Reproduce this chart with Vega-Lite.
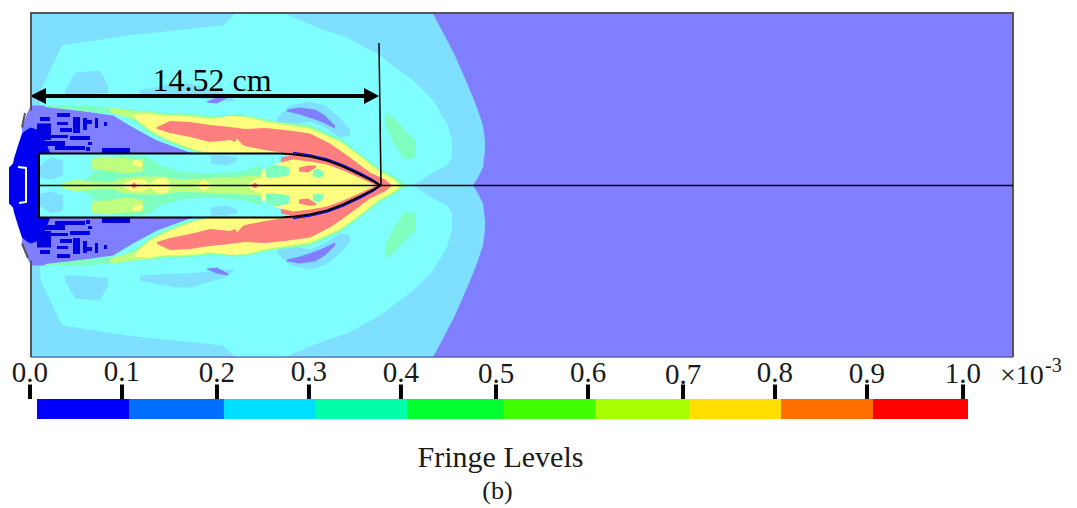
{"$schema":"https://vega.github.io/schema/vega-lite/v6.json","width":1077,"height":508,"padding":0,"autosize":{"type":"fit","contains":"padding"},"background":"white","config":{"view":{"stroke":null}},
"datasets":{"regions":[
{"s":"bg","level":"L0","x":0,"y":172,"y2":-172},{"s":"bg","level":"L0","x":982,"y":172,"y2":-172},
{"s":"a1","level":"L1","x":0,"y":172,"y2":-172},{"s":"a1","level":"L1","x":402,"y":172,"y2":-172},{"s":"a1","level":"L1","x":412,"y":153,"y2":-153},{"s":"a1","level":"L1","x":424,"y":130,"y2":-130},{"s":"a1","level":"L1","x":437,"y":100,"y2":-100},{"s":"a1","level":"L1","x":442,"y":88,"y2":-88},
{"s":"a2","level":"L1","x":442,"y":88,"y2":0},{"s":"a2","level":"L1","x":447,"y":75,"y2":8},{"s":"a2","level":"L1","x":452,"y":60,"y2":18},{"s":"a2","level":"L1","x":454,"y":45,"y2":35},
{"s":"a3","level":"L1","x":442,"y":-88,"y2":0},{"s":"a3","level":"L1","x":447,"y":-75,"y2":-8},{"s":"a3","level":"L1","x":452,"y":-60,"y2":-18},{"s":"a3","level":"L1","x":454,"y":-45,"y2":-35},
{"s":"b1","level":"L2","x":9,"y":90,"y2":-90},{"s":"b1","level":"L2","x":11,"y":98,"y2":-98},{"s":"b1","level":"L2","x":31,"y":140,"y2":-140},{"s":"b1","level":"L2","x":96,"y":150,"y2":-150},{"s":"b1","level":"L2","x":192,"y":160,"y2":-160},{"s":"b1","level":"L2","x":204,"y":172,"y2":-172},{"s":"b1","level":"L2","x":254,"y":172,"y2":-172},{"s":"b1","level":"L2","x":262,"y":168,"y2":-168},{"s":"b1","level":"L2","x":289,"y":157,"y2":-157},{"s":"b1","level":"L2","x":316,"y":148,"y2":-148},{"s":"b1","level":"L2","x":349,"y":130,"y2":-130},{"s":"b1","level":"L2","x":382,"y":105,"y2":-105},
{"s":"b2","level":"L2","x":382,"y":105,"y2":0},{"s":"b2","level":"L2","x":402,"y":85,"y2":13},{"s":"b2","level":"L2","x":416,"y":62,"y2":20},{"s":"b2","level":"L2","x":421,"y":45,"y2":28},
{"s":"b3","level":"L2","x":382,"y":-105,"y2":0},{"s":"b3","level":"L2","x":402,"y":-85,"y2":-13},{"s":"b3","level":"L2","x":416,"y":-62,"y2":-20},{"s":"b3","level":"L2","x":421,"y":-45,"y2":-28},
{"s":"c1","level":"L1","x":34,"y":95,"y2":90},{"s":"c1","level":"L1","x":44,"y":113,"y2":90},{"s":"c1","level":"L1","x":69,"y":115,"y2":92},{"s":"c1","level":"L1","x":77,"y":100,"y2":92},
{"s":"c2","level":"L1","x":34,"y":-95,"y2":-90},{"s":"c2","level":"L1","x":44,"y":-113,"y2":-90},{"s":"c2","level":"L1","x":69,"y":-115,"y2":-92},{"s":"c2","level":"L1","x":77,"y":-100,"y2":-92},
{"s":"c3","level":"L1","x":109,"y":95,"y2":90},{"s":"c3","level":"L1","x":144,"y":102,"y2":88},{"s":"c3","level":"L1","x":159,"y":102,"y2":88},{"s":"c3","level":"L1","x":194,"y":92,"y2":84},{"s":"c3","level":"L1","x":205,"y":84,"y2":84},
{"s":"c4","level":"L1","x":109,"y":-95,"y2":-90},{"s":"c4","level":"L1","x":144,"y":-102,"y2":-88},{"s":"c4","level":"L1","x":159,"y":-102,"y2":-88},{"s":"c4","level":"L1","x":194,"y":-92,"y2":-84},{"s":"c4","level":"L1","x":205,"y":-84,"y2":-84},
{"s":"c5","level":"L0","x":176,"y":84,"y2":83},{"s":"c5","level":"L0","x":186,"y":88,"y2":82},{"s":"c5","level":"L0","x":197,"y":90,"y2":88},
{"s":"c6","level":"L0","x":176,"y":-84,"y2":-83},{"s":"c6","level":"L0","x":186,"y":-88,"y2":-82},{"s":"c6","level":"L0","x":197,"y":-90,"y2":-88},
{"s":"d1","level":"L1","x":246,"y":68,"y2":62},{"s":"d1","level":"L1","x":259,"y":80,"y2":60},{"s":"d1","level":"L1","x":279,"y":84,"y2":64},{"s":"d1","level":"L1","x":294,"y":80,"y2":58},{"s":"d1","level":"L1","x":309,"y":68,"y2":48},{"s":"d1","level":"L1","x":319,"y":56,"y2":50},
{"s":"d2","level":"L1","x":246,"y":-68,"y2":-62},{"s":"d2","level":"L1","x":259,"y":-80,"y2":-60},{"s":"d2","level":"L1","x":279,"y":-84,"y2":-64},{"s":"d2","level":"L1","x":294,"y":-80,"y2":-58},{"s":"d2","level":"L1","x":309,"y":-68,"y2":-48},{"s":"d2","level":"L1","x":319,"y":-56,"y2":-50},
{"s":"d3","level":"L0","x":256,"y":76,"y2":74},{"s":"d3","level":"L0","x":269,"y":78,"y2":71},{"s":"d3","level":"L0","x":284,"y":76,"y2":66},{"s":"d3","level":"L0","x":294,"y":70,"y2":62},{"s":"d3","level":"L0","x":304,"y":60,"y2":57},
{"s":"d4","level":"L0","x":256,"y":-76,"y2":-74},{"s":"d4","level":"L0","x":269,"y":-78,"y2":-71},{"s":"d4","level":"L0","x":284,"y":-76,"y2":-66},{"s":"d4","level":"L0","x":294,"y":-70,"y2":-62},{"s":"d4","level":"L0","x":304,"y":-60,"y2":-57},
{"s":"e1","level":"L3","x":354,"y":73,"y2":60},{"s":"e1","level":"L3","x":364,"y":67,"y2":40},{"s":"e1","level":"L3","x":374,"y":55,"y2":26},{"s":"e1","level":"L3","x":385,"y":45,"y2":28},
{"s":"e2","level":"L3","x":354,"y":-73,"y2":-60},{"s":"e2","level":"L3","x":364,"y":-67,"y2":-40},{"s":"e2","level":"L3","x":374,"y":-55,"y2":-26},{"s":"e2","level":"L3","x":385,"y":-45,"y2":-28},
{"s":"f1","level":"L0","x":-9,"y":58,"y2":-58},{"s":"f1","level":"L0","x":-4,"y":72,"y2":-72},{"s":"f1","level":"L0","x":0,"y":80,"y2":-80},{"s":"f1","level":"L0","x":12,"y":80,"y2":-80},{"s":"f1","level":"L0","x":82,"y":70,"y2":-70},{"s":"f1","level":"L0","x":102,"y":58,"y2":-58},{"s":"f1","level":"L0","x":126,"y":45,"y2":-45},{"s":"f1","level":"L0","x":159,"y":33,"y2":-33},{"s":"f1","level":"L0","x":169,"y":32,"y2":-32},
{"s":"f2","level":"DK","x":-22,"y":18,"y2":-18},{"s":"f2","level":"DK","x":-18,"y":22,"y2":-22},{"s":"f2","level":"DK","x":-17,"y":27,"y2":-27},{"s":"f2","level":"DK","x":-13,"y":40,"y2":-40},{"s":"f2","level":"DK","x":-9,"y":52,"y2":-52},{"s":"f2","level":"DK","x":-4,"y":56,"y2":-56},{"s":"f2","level":"DK","x":0,"y":58,"y2":-58},{"s":"f2","level":"DK","x":8,"y":55,"y2":-55},{"s":"f2","level":"DK","x":14,"y":45,"y2":-45},{"s":"f2","level":"DK","x":19,"y":33,"y2":-33},
{"s":"g1","level":"L3","x":14,"y":80.5,"y2":78.5},{"s":"g1","level":"L3","x":59,"y":79.5,"y2":73.5},{"s":"g1","level":"L3","x":89,"y":77.5,"y2":71.5},{"s":"g1","level":"L3","x":104,"y":75.5,"y2":63.5},{"s":"g1","level":"L3","x":119,"y":74.5,"y2":52.5},{"s":"g1","level":"L3","x":134,"y":72.5,"y2":44.5},{"s":"g1","level":"L3","x":149,"y":72.5,"y2":38.5},{"s":"g1","level":"L3","x":164,"y":71.5,"y2":33.5},{"s":"g1","level":"L3","x":179,"y":69.5,"y2":32.5},{"s":"g1","level":"L3","x":209,"y":71.5,"y2":32.5},{"s":"g1","level":"L3","x":229,"y":67.5,"y2":32.5},{"s":"g1","level":"L3","x":249,"y":63.5,"y2":32.5},{"s":"g1","level":"L3","x":279,"y":60.5,"y2":30.5},{"s":"g1","level":"L3","x":309,"y":47,"y2":20.5},{"s":"g1","level":"L3","x":329,"y":32,"y2":10.5},{"s":"g1","level":"L3","x":349,"y":17,"y2":0},{"s":"g1","level":"L3","x":364,"y":9,"y2":0},{"s":"g1","level":"L3","x":376,"y":0,"y2":0},
{"s":"g2","level":"L3","x":14,"y":-80.5,"y2":-78.5},{"s":"g2","level":"L3","x":59,"y":-79.5,"y2":-73.5},{"s":"g2","level":"L3","x":89,"y":-77.5,"y2":-71.5},{"s":"g2","level":"L3","x":104,"y":-75.5,"y2":-63.5},{"s":"g2","level":"L3","x":119,"y":-74.5,"y2":-52.5},{"s":"g2","level":"L3","x":134,"y":-72.5,"y2":-44.5},{"s":"g2","level":"L3","x":149,"y":-72.5,"y2":-38.5},{"s":"g2","level":"L3","x":164,"y":-71.5,"y2":-33.5},{"s":"g2","level":"L3","x":179,"y":-69.5,"y2":-32.5},{"s":"g2","level":"L3","x":209,"y":-71.5,"y2":-32.5},{"s":"g2","level":"L3","x":229,"y":-67.5,"y2":-32.5},{"s":"g2","level":"L3","x":249,"y":-63.5,"y2":-32.5},{"s":"g2","level":"L3","x":279,"y":-60.5,"y2":-30.5},{"s":"g2","level":"L3","x":309,"y":-47,"y2":-20.5},{"s":"g2","level":"L3","x":329,"y":-32,"y2":-10.5},{"s":"g2","level":"L3","x":349,"y":-17,"y2":0},{"s":"g2","level":"L3","x":364,"y":-9,"y2":0},{"s":"g2","level":"L3","x":376,"y":0,"y2":0},
{"s":"h1","level":"L5","x":79,"y":78,"y2":73},{"s":"h1","level":"L5","x":104,"y":74.5,"y2":66},{"s":"h1","level":"L5","x":119,"y":73.5,"y2":54},{"s":"h1","level":"L5","x":134,"y":71,"y2":46},{"s":"h1","level":"L5","x":149,"y":71,"y2":40},{"s":"h1","level":"L5","x":164,"y":70,"y2":35},{"s":"h1","level":"L5","x":179,"y":68,"y2":32.5},{"s":"h1","level":"L5","x":199,"y":69,"y2":32.5},{"s":"h1","level":"L5","x":219,"y":69,"y2":32.5},{"s":"h1","level":"L5","x":234,"y":65,"y2":32.5},{"s":"h1","level":"L5","x":254,"y":62,"y2":32.5},{"s":"h1","level":"L5","x":279,"y":58.5,"y2":30.5},{"s":"h1","level":"L5","x":309,"y":45,"y2":20.5},{"s":"h1","level":"L5","x":329,"y":30.5,"y2":10.5},{"s":"h1","level":"L5","x":349,"y":15,"y2":0},{"s":"h1","level":"L5","x":362,"y":8,"y2":0},{"s":"h1","level":"L5","x":372,"y":0,"y2":0},
{"s":"h2","level":"L5","x":79,"y":-78,"y2":-73},{"s":"h2","level":"L5","x":104,"y":-74.5,"y2":-66},{"s":"h2","level":"L5","x":119,"y":-73.5,"y2":-54},{"s":"h2","level":"L5","x":134,"y":-71,"y2":-46},{"s":"h2","level":"L5","x":149,"y":-71,"y2":-40},{"s":"h2","level":"L5","x":164,"y":-70,"y2":-35},{"s":"h2","level":"L5","x":179,"y":-68,"y2":-32.5},{"s":"h2","level":"L5","x":199,"y":-69,"y2":-32.5},{"s":"h2","level":"L5","x":219,"y":-69,"y2":-32.5},{"s":"h2","level":"L5","x":234,"y":-65,"y2":-32.5},{"s":"h2","level":"L5","x":254,"y":-62,"y2":-32.5},{"s":"h2","level":"L5","x":279,"y":-58.5,"y2":-30.5},{"s":"h2","level":"L5","x":309,"y":-45,"y2":-20.5},{"s":"h2","level":"L5","x":329,"y":-30.5,"y2":-10.5},{"s":"h2","level":"L5","x":349,"y":-15,"y2":0},{"s":"h2","level":"L5","x":362,"y":-8,"y2":0},{"s":"h2","level":"L5","x":372,"y":0,"y2":0},
{"s":"i1","level":"L6","x":104,"y":71.5,"y2":67.5},{"s":"i1","level":"L6","x":119,"y":71.5,"y2":55.5},{"s":"i1","level":"L6","x":134,"y":69.5,"y2":47.5},{"s":"i1","level":"L6","x":149,"y":69.5,"y2":41.5},{"s":"i1","level":"L6","x":164,"y":68.5,"y2":35.5},{"s":"i1","level":"L6","x":179,"y":66.5,"y2":32.5},{"s":"i1","level":"L6","x":199,"y":69.5,"y2":32.5},{"s":"i1","level":"L6","x":214,"y":68.5,"y2":32.5},{"s":"i1","level":"L6","x":234,"y":63.5,"y2":32.5},{"s":"i1","level":"L6","x":254,"y":60.5,"y2":32.5},{"s":"i1","level":"L6","x":279,"y":56.5,"y2":30.5},{"s":"i1","level":"L6","x":309,"y":43.5,"y2":20.5},{"s":"i1","level":"L6","x":329,"y":29,"y2":10.5},{"s":"i1","level":"L6","x":349,"y":13,"y2":0},{"s":"i1","level":"L6","x":361,"y":7,"y2":0},{"s":"i1","level":"L6","x":369,"y":0,"y2":0},
{"s":"i2","level":"L6","x":104,"y":-71.5,"y2":-67.5},{"s":"i2","level":"L6","x":119,"y":-71.5,"y2":-55.5},{"s":"i2","level":"L6","x":134,"y":-69.5,"y2":-47.5},{"s":"i2","level":"L6","x":149,"y":-69.5,"y2":-41.5},{"s":"i2","level":"L6","x":164,"y":-68.5,"y2":-35.5},{"s":"i2","level":"L6","x":179,"y":-66.5,"y2":-32.5},{"s":"i2","level":"L6","x":199,"y":-69.5,"y2":-32.5},{"s":"i2","level":"L6","x":214,"y":-68.5,"y2":-32.5},{"s":"i2","level":"L6","x":234,"y":-63.5,"y2":-32.5},{"s":"i2","level":"L6","x":254,"y":-60.5,"y2":-32.5},{"s":"i2","level":"L6","x":279,"y":-56.5,"y2":-30.5},{"s":"i2","level":"L6","x":309,"y":-43.5,"y2":-20.5},{"s":"i2","level":"L6","x":329,"y":-29,"y2":-10.5},{"s":"i2","level":"L6","x":349,"y":-13,"y2":0},{"s":"i2","level":"L6","x":361,"y":-7,"y2":0},{"s":"i2","level":"L6","x":369,"y":0,"y2":0},
{"s":"j1","level":"L8","x":126,"y":58.5,"y2":56.5},{"s":"j1","level":"L8","x":139,"y":64.5,"y2":52.5},{"s":"j1","level":"L8","x":159,"y":63.5,"y2":48.5},{"s":"j1","level":"L8","x":179,"y":60.5,"y2":43.5},{"s":"j1","level":"L8","x":199,"y":58.5,"y2":45.5},{"s":"j1","level":"L8","x":214,"y":56.5,"y2":39.5},{"s":"j1","level":"L8","x":234,"y":57.5,"y2":35.5},{"s":"j1","level":"L8","x":254,"y":55.5,"y2":32.5},{"s":"j1","level":"L8","x":279,"y":52,"y2":27.5},{"s":"j1","level":"L8","x":299,"y":42,"y2":22.5},{"s":"j1","level":"L8","x":319,"y":28,"y2":13.5},{"s":"j1","level":"L8","x":339,"y":13,"y2":3.5},{"s":"j1","level":"L8","x":354,"y":6,"y2":0},{"s":"j1","level":"L8","x":361,"y":0,"y2":0},
{"s":"j2","level":"L8","x":126,"y":-58.5,"y2":-56.5},{"s":"j2","level":"L8","x":139,"y":-64.5,"y2":-52.5},{"s":"j2","level":"L8","x":159,"y":-63.5,"y2":-48.5},{"s":"j2","level":"L8","x":179,"y":-60.5,"y2":-43.5},{"s":"j2","level":"L8","x":199,"y":-58.5,"y2":-45.5},{"s":"j2","level":"L8","x":214,"y":-56.5,"y2":-39.5},{"s":"j2","level":"L8","x":234,"y":-57.5,"y2":-35.5},{"s":"j2","level":"L8","x":254,"y":-55.5,"y2":-32.5},{"s":"j2","level":"L8","x":279,"y":-52,"y2":-27.5},{"s":"j2","level":"L8","x":299,"y":-42,"y2":-22.5},{"s":"j2","level":"L8","x":319,"y":-28,"y2":-13.5},{"s":"j2","level":"L8","x":339,"y":-13,"y2":-3.5},{"s":"j2","level":"L8","x":354,"y":-6,"y2":0},{"s":"j2","level":"L8","x":361,"y":0,"y2":0},
{"s":"j3","level":"L6","x":200,"y":36,"y2":36},{"s":"j3","level":"L6","x":206,"y":47,"y2":33},{"s":"j3","level":"L6","x":214,"y":38,"y2":33},
{"s":"j4","level":"L6","x":200,"y":-36,"y2":-36},{"s":"j4","level":"L6","x":206,"y":-47,"y2":-33},{"s":"j4","level":"L6","x":214,"y":-38,"y2":-33},
{"s":"k1","level":"L2","x":8,"y":32,"y2":-32},{"s":"k1","level":"L2","x":250,"y":32,"y2":-32},{"s":"k1","level":"L2","x":264,"y":31,"y2":-31},{"s":"k1","level":"L2","x":279,"y":29,"y2":-29},{"s":"k1","level":"L2","x":296,"y":25,"y2":-25},{"s":"k1","level":"L2","x":312,"y":19,"y2":-19},{"s":"k1","level":"L2","x":329,"y":11,"y2":-11},{"s":"k1","level":"L2","x":342,"y":4.5,"y2":-4.5},{"s":"k1","level":"L2","x":349,"y":0,"y2":0},
{"s":"k2","level":"L1","x":9,"y":20,"y2":8},{"s":"k2","level":"L1","x":20,"y":28,"y2":6},{"s":"k2","level":"L1","x":32,"y":25,"y2":10},
{"s":"k3","level":"L1","x":9,"y":-20,"y2":-8},{"s":"k3","level":"L1","x":20,"y":-28,"y2":-6},{"s":"k3","level":"L1","x":32,"y":-25,"y2":-10},
{"s":"k4","level":"L1","x":180,"y":30,"y2":22},{"s":"k4","level":"L1","x":195,"y":30,"y2":20},{"s":"k4","level":"L1","x":206,"y":28,"y2":24},
{"s":"k5","level":"L1","x":180,"y":-30,"y2":-22},{"s":"k5","level":"L1","x":195,"y":-30,"y2":-20},{"s":"k5","level":"L1","x":206,"y":-28,"y2":-24},
{"s":"l1","level":"L3","x":50,"y":3,"y2":-3},{"s":"l1","level":"L3","x":62,"y":12,"y2":-12},{"s":"l1","level":"L3","x":70,"y":25,"y2":-25},{"s":"l1","level":"L3","x":90,"y":30,"y2":-30},{"s":"l1","level":"L3","x":116,"y":29,"y2":-29},{"s":"l1","level":"L3","x":130,"y":20,"y2":-20},{"s":"l1","level":"L3","x":150,"y":14,"y2":-14},{"s":"l1","level":"L3","x":175,"y":12,"y2":-12},{"s":"l1","level":"L3","x":210,"y":14,"y2":-14},{"s":"l1","level":"L3","x":230,"y":20,"y2":-20},
{"s":"m1","level":"L5","x":60,"y":27,"y2":16},{"s":"m1","level":"L5","x":75,"y":29,"y2":15},{"s":"m1","level":"L5","x":95,"y":27,"y2":12},{"s":"m1","level":"L5","x":112,"y":26,"y2":14},
{"s":"m2","level":"L5","x":60,"y":-27,"y2":-16},{"s":"m2","level":"L5","x":75,"y":-29,"y2":-15},{"s":"m2","level":"L5","x":95,"y":-27,"y2":-12},{"s":"m2","level":"L5","x":112,"y":-26,"y2":-14},
{"s":"m3","level":"L6","x":102,"y":25.5,"y2":22},{"s":"m3","level":"L6","x":107,"y":25.5,"y2":18.5},{"s":"m3","level":"L6","x":112,"y":22,"y2":20},
{"s":"m4","level":"L6","x":102,"y":-25.5,"y2":-22},{"s":"m4","level":"L6","x":107,"y":-25.5,"y2":-18.5},{"s":"m4","level":"L6","x":112,"y":-22,"y2":-20},
{"s":"n1","level":"L5","x":30,"y":2,"y2":-2},{"s":"n1","level":"L5","x":45,"y":6,"y2":-6},{"s":"n1","level":"L5","x":60,"y":4,"y2":-4},{"s":"n1","level":"L5","x":80,"y":3,"y2":-3},{"s":"n1","level":"L5","x":90,"y":7,"y2":-7},{"s":"n1","level":"L5","x":105,"y":9,"y2":-9},{"s":"n1","level":"L5","x":130,"y":9,"y2":-9},{"s":"n1","level":"L5","x":150,"y":6,"y2":-6},{"s":"n1","level":"L5","x":170,"y":7,"y2":-7},{"s":"n1","level":"L5","x":190,"y":8,"y2":-8},{"s":"n1","level":"L5","x":215,"y":9,"y2":-9},{"s":"n1","level":"L5","x":235,"y":11,"y2":-11},
{"s":"n2","level":"L6","x":90,"y":0,"y2":0},{"s":"n2","level":"L6","x":100,"y":6,"y2":-6},{"s":"n2","level":"L6","x":112,"y":6,"y2":-6},{"s":"n2","level":"L6","x":118,"y":2,"y2":-2},{"s":"n2","level":"L6","x":128,"y":8,"y2":-8},{"s":"n2","level":"L6","x":135,"y":8,"y2":-8},{"s":"n2","level":"L6","x":140,"y":0,"y2":0},
{"s":"n3","level":"L6","x":165,"y":0,"y2":0},{"s":"n3","level":"L6","x":173,"y":6,"y2":-6},{"s":"n3","level":"L6","x":181,"y":0,"y2":0},
{"s":"n4","level":"L6","x":215,"y":0,"y2":0},{"s":"n4","level":"L6","x":228,"y":8,"y2":-8},{"s":"n4","level":"L6","x":240,"y":0,"y2":0},
{"s":"n5","level":"L8","x":99,"y":0,"y2":0},{"s":"n5","level":"L8","x":103,"y":3,"y2":-3},{"s":"n5","level":"L8","x":107,"y":0,"y2":0},
{"s":"n6","level":"L8","x":220,"y":0,"y2":0},{"s":"n6","level":"L8","x":224,"y":3,"y2":-3},{"s":"n6","level":"L8","x":228,"y":0,"y2":0},
{"s":"o1","level":"L8","x":250,"y":28,"y2":-28},{"s":"o1","level":"L8","x":264,"y":31,"y2":-31},{"s":"o1","level":"L8","x":279,"y":29,"y2":-29},{"s":"o1","level":"L8","x":296,"y":25,"y2":-25},{"s":"o1","level":"L8","x":312,"y":19,"y2":-19},{"s":"o1","level":"L8","x":329,"y":11,"y2":-11},{"s":"o1","level":"L8","x":342,"y":4.5,"y2":-4.5},{"s":"o1","level":"L8","x":349,"y":0,"y2":0},
{"s":"o2","level":"L6","x":230,"y":14,"y2":-14},{"s":"o2","level":"L6","x":245,"y":22,"y2":-22},{"s":"o2","level":"L6","x":262,"y":26,"y2":-26},{"s":"o2","level":"L6","x":279,"y":24,"y2":-24},{"s":"o2","level":"L6","x":296,"y":21,"y2":-21},{"s":"o2","level":"L6","x":312,"y":15,"y2":-15},{"s":"o2","level":"L6","x":329,"y":7.5,"y2":-7.5},{"s":"o2","level":"L6","x":345,"y":0,"y2":0},
{"s":"o3","level":"L3","x":235,"y":18,"y2":8},{"s":"o3","level":"L3","x":245,"y":21,"y2":8},{"s":"o3","level":"L3","x":258,"y":18,"y2":10},
{"s":"o4","level":"L3","x":235,"y":-18,"y2":-8},{"s":"o4","level":"L3","x":245,"y":-21,"y2":-8},{"s":"o4","level":"L3","x":258,"y":-18,"y2":-10},
{"s":"o5","level":"L3","x":282,"y":15,"y2":9},{"s":"o5","level":"L3","x":287,"y":17,"y2":8},{"s":"o5","level":"L3","x":292,"y":14,"y2":9},
{"s":"o6","level":"L3","x":282,"y":-15,"y2":-9},{"s":"o6","level":"L3","x":287,"y":-17,"y2":-8},{"s":"o6","level":"L3","x":292,"y":-14,"y2":-9},
{"s":"o7","level":"L8","x":268,"y":18,"y2":14},{"s":"o7","level":"L8","x":277,"y":20,"y2":13},{"s":"o7","level":"L8","x":285,"y":20,"y2":18},
{"s":"o8","level":"L8","x":268,"y":-18,"y2":-14},{"s":"o8","level":"L8","x":277,"y":-20,"y2":-13},{"s":"o8","level":"L8","x":285,"y":-20,"y2":-18},
{"s":"p1","level":"K","x":-1,"y":89.5,"y2":89.5},{"s":"p1","level":"K","x":15,"y":97.5,"y2":81.5},
{"s":"p2","level":"K","x":333,"y":97.5,"y2":81.5},{"s":"p2","level":"K","x":348,"y":89.5,"y2":89.5}
],
"speckles":[
{"x":26,"x2":39,"y":72.5,"y2":68.5},{"x":26,"x2":37,"y":63.5,"y2":60.5},{"x":29,"x2":41,"y":57.5,"y2":53.5},{"x":42,"x2":49,"y":68.5,"y2":52.5},{"x":52,"x2":56,"y":67.5,"y2":55.5},{"x":56,"x2":61,"y":65.5,"y2":61.5},{"x":64,"x2":67,"y":67.5,"y2":57.5},{"x":73,"x2":76,"y":63.5,"y2":59.5},{"x":6,"x2":20,"y":62,"y2":45.5},{"x":9,"x2":19,"y":68.5,"y2":64.5},{"x":12,"x2":34,"y":44.5,"y2":39.5},{"x":24,"x2":54,"y":39.5,"y2":35.5},{"x":39,"x2":59,"y":49.5,"y2":45.5},{"x":19,"x2":37,"y":50.5,"y2":47.5},{"x":57,"x2":61,"y":43.5,"y2":40.5},{"x":55,"x2":59,"y":38.5,"y2":34.5},{"x":71,"x2":99,"y":37.5,"y2":32.5},
{"x":26,"x2":39,"y":-72.5,"y2":-68.5},{"x":26,"x2":37,"y":-63.5,"y2":-60.5},{"x":29,"x2":41,"y":-57.5,"y2":-53.5},{"x":42,"x2":49,"y":-68.5,"y2":-52.5},{"x":52,"x2":56,"y":-67.5,"y2":-55.5},{"x":56,"x2":61,"y":-65.5,"y2":-61.5},{"x":64,"x2":67,"y":-67.5,"y2":-57.5},{"x":73,"x2":76,"y":-63.5,"y2":-59.5},{"x":6,"x2":20,"y":-62,"y2":-45.5},{"x":9,"x2":19,"y":-68.5,"y2":-64.5},{"x":12,"x2":34,"y":-44.5,"y2":-39.5},{"x":24,"x2":54,"y":-39.5,"y2":-35.5},{"x":39,"x2":59,"y":-49.5,"y2":-45.5},{"x":19,"x2":37,"y":-50.5,"y2":-47.5},{"x":57,"x2":61,"y":-43.5,"y2":-40.5},{"x":55,"x2":59,"y":-38.5,"y2":-34.5},{"x":71,"x2":99,"y":-37.5,"y2":-32.5}
],
"lines":[
{"role":"frame","id":"t","i":0,"x":0,"y":75},{"role":"frame","id":"t","i":1,"x":0,"y":172.5},{"role":"frame","id":"t","i":2,"x":982,"y":172.5},{"role":"frame","id":"t","i":3,"x":982,"y":-171.5},
{"role":"frame","id":"u","i":0,"x":0,"y":-75},{"role":"frame","id":"u","i":1,"x":0,"y":-171.5},
{"role":"frame","id":"v","i":0,"x":-6,"y":72.5},{"role":"frame","id":"v","i":1,"x":-9,"y":58},
{"role":"frame","id":"w","i":0,"x":-3,"y":-72.5},{"role":"frame","id":"w","i":1,"x":-9,"y":-58},
{"role":"base","id":"b","i":0,"x":0,"y":-171.5},{"role":"base","id":"b","i":1,"x":982,"y":-171.5},
{"role":"edge","id":"e","i":0,"x":262,"y":33},{"role":"edge","id":"e","i":1,"x":279,"y":30.5},{"role":"edge","id":"e","i":2,"x":296,"y":26.5},{"role":"edge","id":"e","i":3,"x":312,"y":20.5},{"role":"edge","id":"e","i":4,"x":329,"y":12.5},{"role":"edge","id":"e","i":5,"x":342,"y":5.5},{"role":"edge","id":"e","i":6,"x":350,"y":0},{"role":"edge","id":"e","i":7,"x":342,"y":-5.5},{"role":"edge","id":"e","i":8,"x":329,"y":-12.5},{"role":"edge","id":"e","i":9,"x":312,"y":-20.5},{"role":"edge","id":"e","i":10,"x":296,"y":-26.5},{"role":"edge","id":"e","i":11,"x":279,"y":-30.5},{"role":"edge","id":"e","i":12,"x":262,"y":-33},
{"role":"outline","id":"o","i":0,"x":8,"y":32},{"role":"outline","id":"o","i":1,"x":250,"y":32},{"role":"outline","id":"o","i":2,"x":264,"y":31},{"role":"outline","id":"o","i":3,"x":279,"y":29},{"role":"outline","id":"o","i":4,"x":296,"y":25},{"role":"outline","id":"o","i":5,"x":312,"y":19},{"role":"outline","id":"o","i":6,"x":329,"y":11},{"role":"outline","id":"o","i":7,"x":342,"y":4.5},{"role":"outline","id":"o","i":8,"x":349,"y":0},{"role":"outline","id":"o","i":9,"x":342,"y":-4.5},{"role":"outline","id":"o","i":10,"x":329,"y":-11},{"role":"outline","id":"o","i":11,"x":312,"y":-19},{"role":"outline","id":"o","i":12,"x":296,"y":-25},{"role":"outline","id":"o","i":13,"x":279,"y":-29},{"role":"outline","id":"o","i":14,"x":264,"y":-31},{"role":"outline","id":"o","i":15,"x":250,"y":-32},{"role":"outline","id":"o","i":16,"x":8,"y":-32},{"role":"outline","id":"o","i":17,"x":8,"y":32},
{"role":"thin","id":"a","i":0,"x":8,"y":0},{"role":"thin","id":"a","i":1,"x":982,"y":0},
{"role":"thin","id":"m","i":0,"x":348,"y":142.5},{"role":"thin","id":"m","i":1,"x":350,"y":0},
{"role":"shaft","id":"s","i":0,"x":2,"y":89.5},{"role":"shaft","id":"s","i":1,"x":345,"y":89.5},
{"role":"bracket","id":"k","i":0,"x":-13,"y":18.5},{"role":"bracket","id":"k","i":1,"x":-5,"y":17.5},{"role":"bracket","id":"k","i":2,"x":-5,"y":-16.5},{"role":"bracket","id":"k","i":3,"x":-12,"y":-17.5}
],
"bar":[
{"level":"B0","from":0.0075,"to":0.1061,"y":-213.5,"y2":-233.5},{"level":"B1","from":0.1061,"to":0.2079,"y":-213.5,"y2":-233.5},{"level":"B2","from":0.2079,"to":0.3065,"y":-213.5,"y2":-233.5},{"level":"B3","from":0.3065,"to":0.4041,"y":-213.5,"y2":-233.5},{"level":"B4","from":0.4041,"to":0.507,"y":-213.5,"y2":-233.5},{"level":"B5","from":0.507,"to":0.6056,"y":-213.5,"y2":-233.5},{"level":"B6","from":0.6056,"to":0.7063,"y":-213.5,"y2":-233.5},{"level":"B7","from":0.7063,"to":0.8049,"y":-213.5,"y2":-233.5},{"level":"B8","from":0.8049,"to":0.9035,"y":-213.5,"y2":-233.5},{"level":"B9","from":0.9035,"to":1.0054,"y":-213.5,"y2":-233.5}
],
"ticks":[
{"label":"0.0","at":0.0,"y":-199,"y2":-213.5,"ty":-196.5},{"label":"0.1","at":0.0986,"y":-199,"y2":-213.5,"ty":-195.5},{"label":"0.2","at":0.2004,"y":-199,"y2":-213.5,"ty":-196.5},{"label":"0.3","at":0.299,"y":-199,"y2":-213.5,"ty":-195.5},{"label":"0.4","at":0.3976,"y":-199,"y2":-213.5,"ty":-196.5},{"label":"0.5","at":0.4995,"y":-199,"y2":-213.5,"ty":-197.5},{"label":"0.6","at":0.5981,"y":-199,"y2":-213.5,"ty":-196.5},{"label":"0.7","at":0.6999,"y":-199,"y2":-213.5,"ty":-198.5},{"label":"0.8","at":0.7985,"y":-199,"y2":-213.5,"ty":-196.5},{"label":"0.9","at":0.8971,"y":-199,"y2":-213.5,"ty":-197.5},{"label":"1.0","at":1.0,"y":-199,"y2":-213.5,"ty":-197.5}
]},
"encoding":{"x":{"field":"x","type":"quantitative","scale":{"domain":[-31,1046]},"axis":null},"y":{"field":"y","type":"quantitative","scale":{"domain":[-322.5,185.5]},"axis":null}},
"resolve":{"scale":{"x":"independent"}},
"layer":[
{"data":{"name":"regions"},"mark":{"type":"area","orient":"vertical","interpolate":"linear"},"encoding":{"y2":{"field":"y2"},"detail":{"field":"s"},"color":{"field":"level","type":"nominal","legend":null,"scale":{"domain":["L0","L1","L2","L3","L5","L6","L8","DK","K","B0","B1","B2","B3","B4","B5","B6","B7","B8","B9"],"range":["#7f7fff","#7fdfff","#7fffff","#7fffbf","#bfff7f","#ffff7f","#ff7f7f","#0000f0","#000000","#0000ff","#006fff","#00dfff","#00ffa8","#00ff30","#3fff00","#a8ff00","#ffdf00","#ff6f00","#ff0000"]}}}},
{"data":{"name":"speckles"},"mark":{"type":"rect","color":"#0000e0"},"encoding":{"x2":{"field":"x2"},"y2":{"field":"y2"}}},
{"data":{"name":"lines"},"transform":[{"filter":"datum.role=='frame'"}],"mark":{"type":"line","color":"#555555","strokeWidth":2},"encoding":{"detail":{"field":"id"},"order":{"field":"i"}}},
{"data":{"name":"lines"},"transform":[{"filter":"datum.role=='base'"}],"mark":{"type":"line","color":"#4a4aa5","strokeWidth":1},"encoding":{"detail":{"field":"id"},"order":{"field":"i"}}},
{"data":{"name":"lines"},"transform":[{"filter":"datum.role=='edge'"}],"mark":{"type":"line","color":"#1010d8","strokeWidth":1.5},"encoding":{"detail":{"field":"id"},"order":{"field":"i"}}},
{"data":{"name":"lines"},"transform":[{"filter":"datum.role=='outline'"}],"mark":{"type":"line","color":"#000000","strokeWidth":2},"encoding":{"detail":{"field":"id"},"order":{"field":"i"}}},
{"data":{"name":"lines"},"transform":[{"filter":"datum.role=='thin'"}],"mark":{"type":"line","color":"#000000","strokeWidth":1.5},"encoding":{"detail":{"field":"id"},"order":{"field":"i"}}},
{"data":{"name":"lines"},"transform":[{"filter":"datum.role=='shaft'"}],"mark":{"type":"line","color":"#000000","strokeWidth":4},"encoding":{"detail":{"field":"id"},"order":{"field":"i"}}},
{"data":{"name":"lines"},"transform":[{"filter":"datum.role=='bracket'"}],"mark":{"type":"line","color":"#ffffff","strokeWidth":2},"encoding":{"detail":{"field":"id"},"order":{"field":"i"}}},
{"data":{"name":"bar"},"mark":{"type":"rect"},"encoding":{"x":{"field":"from","type":"quantitative","scale":{"domain":[-0.03215,1.12219]},"axis":null},"x2":{"field":"to"},"y2":{"field":"y2"},"color":{"field":"level","type":"nominal","legend":null}}},
{"data":{"name":"ticks"},"mark":{"type":"rule","color":"#000000","strokeWidth":4},"encoding":{"x":{"field":"at","type":"quantitative","scale":{"domain":[-0.03215,1.12219]},"axis":null},"y2":{"field":"y2"}}},
{"data":{"name":"ticks"},"mark":{"type":"text","font":"Liberation Serif","fontSize":29,"align":"center","baseline":"alphabetic","color":"#1a1a1a"},"encoding":{"x":{"field":"at","type":"quantitative","scale":{"domain":[-0.03215,1.12219]},"axis":null},"y":{"field":"ty","type":"quantitative"},"text":{"field":"label"}}},
{"data":{"values":[{"x":181,"y":94.5,"label":"14.52 cm"}]},"mark":{"type":"text","font":"Liberation Serif","fontSize":32,"align":"center","baseline":"alphabetic","color":"#000000"},"encoding":{"text":{"field":"label"}}},
{"data":{"values":[{"x":469.5,"y":-281,"label":"Fringe Levels"}]},"mark":{"type":"text","font":"Liberation Serif","fontSize":30,"align":"center","baseline":"alphabetic","color":"#1a1a1a"},"encoding":{"text":{"field":"label"}}},
{"data":{"values":[{"x":466.5,"y":-313,"label":"(b)"}]},"mark":{"type":"text","font":"Liberation Serif","fontSize":26,"align":"center","baseline":"alphabetic","color":"#1a1a1a"},"encoding":{"text":{"field":"label"}}},
{"data":{"values":[{"x":969,"y":-198.5,"label":"×10"}]},"mark":{"type":"text","font":"Liberation Serif","fontSize":28,"align":"left","baseline":"alphabetic","color":"#1a1a1a"},"encoding":{"text":{"field":"label"}}},
{"data":{"values":[{"x":1014,"y":-186.5,"label":"-3"}]},"mark":{"type":"text","font":"Liberation Serif","fontSize":20,"align":"left","baseline":"alphabetic","color":"#1a1a1a"},"encoding":{"text":{"field":"label"}}}
]}
